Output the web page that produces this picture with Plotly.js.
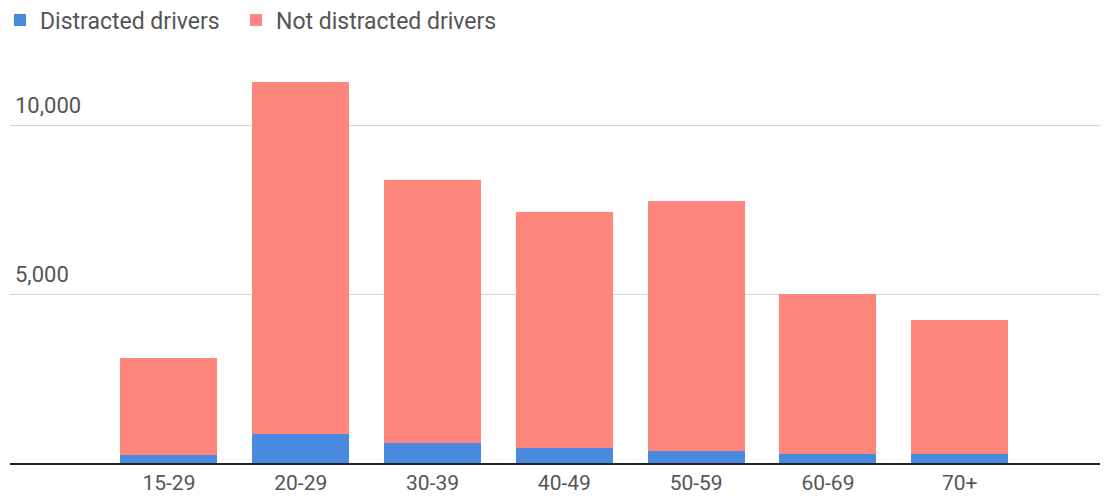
<!DOCTYPE html>
<html>
<head>
<meta charset="utf-8">
<script src="https://cdn.plot.ly/plotly-3.0.1.min.js"></script>
<style>html,body{margin:0;padding:0;background:#fff;}#chart{width:1112px;height:496px;}</style>
</head>
<body>
<div id="chart"></div>
<script>
const ageGroups = ["15-29", "20-29", "30-39", "40-49", "50-59", "60-69", "70+"];
const distracted = [250, 870, 580, 460, 360, 255, 255];
const notDistracted = [2870, 10440, 7830, 6990, 7410, 4745, 4000];
const seriesNames = ["Distracted drivers\u00a0\u00a0", "Not distracted drivers"];
const yTickValues = [0, 5000, 10000];
const yTickLabels = ["", "5,000", "10,000"];

const traces = [
  {type: "bar", name: seriesNames[0], x: ageGroups, y: distracted,
   marker: {color: "#4a89e0"}, hoverinfo: "x+y+name"},
  {type: "bar", name: seriesNames[1], x: ageGroups, y: notDistracted,
   marker: {color: "#ff867c"}, hoverinfo: "x+y+name"}
];

const layout = {
  width: 1112, height: 496,
  margin: {l: 0, r: 12, t: 0, b: 33, pad: 0, autoexpand: false},
  barmode: "stack",
  bargap: 0.264,
  paper_bgcolor: "#fff", plot_bgcolor: "#fff",
  font: {family: "Roboto, 'Noto Sans', sans-serif", color: "#555", size: 22},
  showlegend: true,
  legend: {orientation: "h", x: 0, xanchor: "left", y: 0.9568, yanchor: "middle",
           font: {size: 23, color: "#555"}, traceorder: "normal",
           bgcolor: "rgba(0,0,0,0)",
           itemclick: false, itemdoubleclick: false},
  xaxis: {
    type: "category", range: [-1.206, 7.064], fixedrange: true,
    domain: [10/1100, 1],
    showgrid: false, zeroline: false, showline: true, linecolor: "#222", linewidth: 2,
    ticks: "", tickfont: {size: 21, color: "#555"}
  },
  yaxis: {
    range: [0, 11958], fixedrange: true,
    domain: [0, 403/463],
    tickvals: yTickValues, ticktext: yTickLabels,
    showgrid: true, gridcolor: "#d6d6d6", gridwidth: 1,
    zeroline: false, showline: false, ticks: "",
    ticklabelposition: "inside top", ticklabelshift: -5, ticklabelstandoff: 2,
    tickfont: {size: 22, color: "#555"}
  }
};

Plotly.newPlot("chart", traces, layout, {displayModeBar: false, staticPlot: true});
</script>
</body>
</html>
